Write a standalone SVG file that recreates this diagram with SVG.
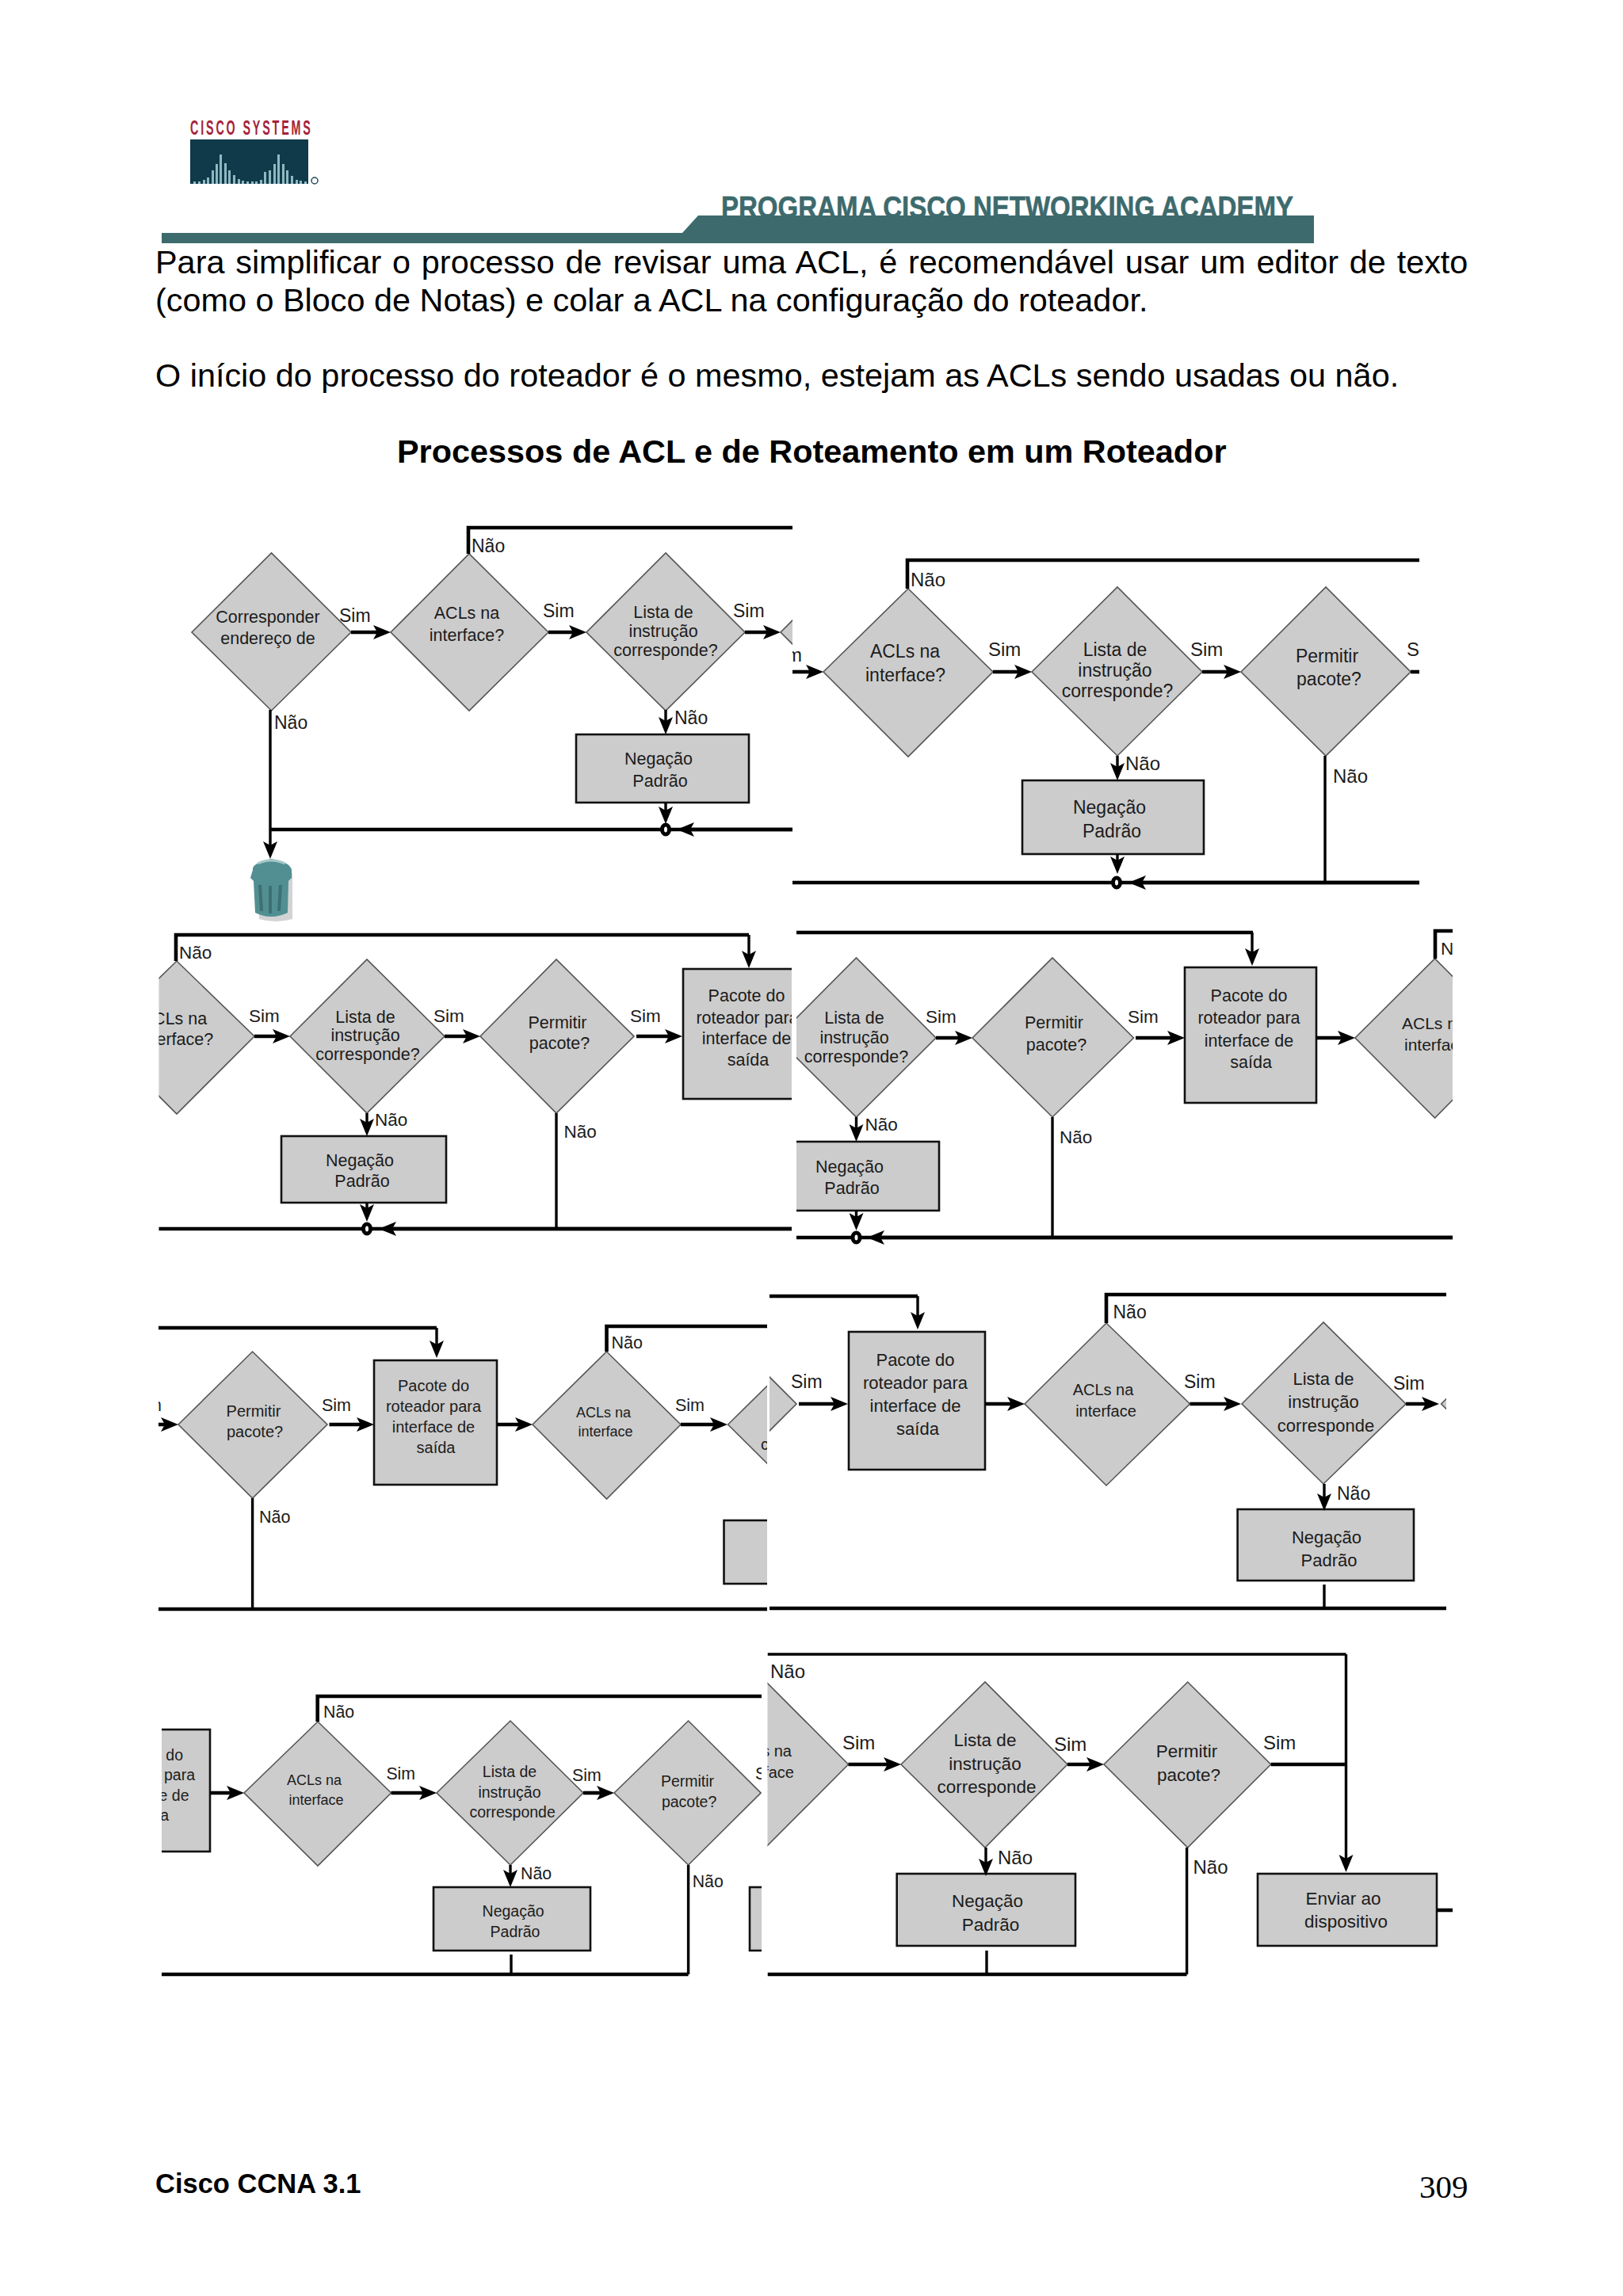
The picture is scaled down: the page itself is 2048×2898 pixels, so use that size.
<svg xmlns="http://www.w3.org/2000/svg" width="2048" height="2898" viewBox="0 0 2048 2898">
<style>
text{font-family:"Liberation Sans",Arial,sans-serif;fill:#1c1c1c}
.c{text-anchor:middle}.e{text-anchor:end}
.body{font-size:41.4px;fill:#000}
.title{font-size:41.4px;font-weight:bold;fill:#000}
.d{fill:#cccccc;stroke:#555;stroke-width:1.6}
.r{fill:#cccccc;stroke:#111;stroke-width:2.6}
.k{fill:none;stroke:#000;stroke-width:4.6}
.t{fill:none;stroke:#000;stroke-width:3.4}
.a{marker-end:url(#arrow)}
.j{fill:#fff;stroke:#000;stroke-width:5}
.bar{fill:#8fb9c2}
</style>
<defs>
<marker id="arrow" markerUnits="userSpaceOnUse" markerWidth="24" markerHeight="18" viewBox="0 0 24 18" refX="15" refY="9" orient="auto"><path d="M0 0L22 9L0 18L5 9Z" fill="#000"/></marker>
<clipPath id="c1"><rect x="150" y="640" width="850" height="530"/></clipPath>
<clipPath id="c2"><rect x="1000" y="690" width="791" height="440"/></clipPath>
<clipPath id="c3"><rect x="200.500" y="1170" width="798.500" height="400"/></clipPath>
<clipPath id="c4"><rect x="1005" y="1165" width="828" height="410"/></clipPath>
<clipPath id="c5"><rect x="200" y="1660" width="768" height="380"/></clipPath>
<clipPath id="c6"><rect x="971" y="1625" width="854" height="415"/></clipPath>
<clipPath id="c7"><rect x="204" y="2130" width="757" height="370"/></clipPath>
<clipPath id="c8"><rect x="968.500" y="2080" width="864.500" height="420"/></clipPath>
</defs>
<rect width="2048" height="2898" fill="#fff"/>

<g id="header">
<text transform="translate(240 170) scale(.55 1)" font-weight="bold" font-size="26" letter-spacing="5.200" style="fill:#a5233a">CISCO SYSTEMS</text>
<rect x="240" y="176" width="149" height="56" fill="#10394a"/>
<path class="bar" d="M244 229h3v3h-3zM250 229h3v3h-3zM256 227h3v5h-3zM261 224h3v8h-3zM267 215h3v17h-3zM272 207h3v25h-3zM277 195h3v37h-3zM283 206h3v26h-3zM288 215h3v17h-3zM294 221h3v11h-3zM300 226h3v6h-3zM305 228h3v4h-3zM311 229h3v3h-3zM317 229h3v3h-3zM322 229h3v3h-3zM328 227h3v5h-3zM333 217h3v15h-3zM339 215h3v17h-3zM345 207h3v25h-3zM350 195h3v37h-3zM356 207h3v25h-3zM361 215h3v17h-3zM367 222h3v10h-3zM373 227h3v5h-3zM378 228h3v4h-3zM384 229h3v3h-3z"/>
<circle cx="397" cy="228" r="4" fill="none" stroke="#1d4a5a" stroke-width="1.500"/>
<text x="910" y="275" textLength="722" lengthAdjust="spacingAndGlyphs" font-weight="bold" font-size="38" stroke="#3d6a6d" stroke-width=".6" style="fill:#3d6a6d">PROGRAMA CISCO NETWORKING ACADEMY</text>
<path d="M204 294H861L881 272H1658V307H204Z" fill="#3d6a6d"/>
</g>

<g id="page-text">
<text class="body" x="196" y="345" word-spacing="2.300">Para simplificar o processo de revisar uma ACL, é recomendável usar um editor de texto</text>
<text class="body" x="196" y="393">(como o Bloco de Notas) e colar a ACL na configuração do roteador.</text>
<text class="body" x="196" y="488">O início do processo do roteador é o mesmo, estejam as ACLs sendo usadas ou não.</text>
<text class="title" x="501" y="584">Processos de ACL e de Roteamento em um Roteador</text>
<text x="196" y="2768" font-size="34.500" font-weight="bold" style="fill:#000">Cisco CCNA 3.1</text>
<text x="1791" y="2774" font-size="41" style="font-family:'Liberation Serif','Times New Roman',serif;fill:#000">309</text>
</g>

<g id="panel1" clip-path="url(#c1)" font-size="21.500">
<g id="p1-match"><polygon class="d" points="242,798 342.500,698 443,798 342.500,897"/><text class="c" x="338" y="786">Corresponder</text><text class="c" x="338" y="813">endereço de</text></g>
<g id="p1-acl"><polygon class="d" points="493,798 592,699 692,798 592,897"/><text class="c" x="589" y="781">ACLs na</text><text class="c" x="589" y="809">interface?</text></g>
<g id="p1-list"><polygon class="d" points="740,798 840,698 940,798 840,897"/><text class="c" x="837" y="780">Lista de</text><text class="c" x="837" y="804">instrução</text><text class="c" x="840" y="828">corresponde?</text></g>
<g id="p1-next"><polygon class="d" points="985,798 1085,698 1185,798 1085,898"/></g>
<g id="p1-deny"><rect class="r" x="727" y="927" width="218" height="86"/><text class="c" x="831" y="965">Negação</text><text class="c" x="833" y="993">Padrão</text></g>
<g id="p1-trash">
<path d="M322 1100L366 1100L366 1158Q345 1164 324 1158Z" fill="#b5b5b5" opacity=".6" transform="translate(3 2)"/>
<path d="M319 1098Q317 1090 342 1084Q366 1088 368 1098L368 1108L364 1112L363 1152Q342 1162 322 1152L320 1112L316 1108Z" fill="#528f93"/>
<path d="M328 1117L330 1150M341 1118V1153M354 1117L352 1150" stroke="#3c7074" stroke-width="4" fill="none"/>
<path d="M325 1090Q342 1082 360 1090" stroke="#a6c8ca" stroke-width="3" fill="none"/>
</g>
<g id="p1-connectors" font-size="23">
<path class="k" d="M1000 666H591V699"/>
<path class="k a" d="M443 798H486"/><path class="k a" d="M692 798H733"/><path class="k a" d="M940 798H978"/>
<path class="t a" d="M840 896V920"/><path class="t a" d="M840 1013V1033"/>
<path class="k" d="M1000 1047H341"/><path class="t a" d="M341 896V1077"/>
<path class="k a" d="M1000 1047H861"/>
<ellipse class="j" cx="840" cy="1047" rx="4.500" ry="6"/>
<text x="595" y="697">Não</text><text x="428" y="785">Sim</text><text x="685" y="779">Sim</text><text x="925" y="779">Sim</text><text x="346" y="920">Não</text><text x="851" y="914">Não</text>
</g>
</g>

<g id="panel2" clip-path="url(#c2)" font-size="23">
<g id="p2-acl"><polygon class="d" points="1039,848 1146,743 1253,848 1146,955"/><text class="c" x="1142" y="830">ACLs na</text><text class="c" x="1142.500" y="860">interface?</text></g>
<g id="p2-list"><polygon class="d" points="1302,848 1410,741 1517,848 1410,954"/><text class="c" x="1407" y="828">Lista de</text><text class="c" x="1407" y="854">instrução</text><text class="c" x="1410" y="880">corresponde?</text></g>
<g id="p2-permit"><polygon class="d" points="1566,848 1673,741 1780,848 1673,954"/><text class="c" x="1674.500" y="836">Permitir</text><text class="c" x="1677" y="865">pacote?</text></g>
<g id="p2-deny"><rect class="r" x="1290" y="985" width="229" height="93"/><text class="c" x="1400" y="1027">Negação</text><text class="c" x="1403" y="1057">Padrão</text></g>
<g id="p2-connectors" font-size="24">
<path class="k" d="M1791 707H1145V743"/>
<path class="k a" d="M1000 848H1032"/><path class="k a" d="M1253 848H1295"/><path class="k a" d="M1517 848H1559"/><path class="k" d="M1780 848H1791"/>
<path class="t a" d="M1410 954V978"/><path class="t a" d="M1410 1078V1096"/>
<path class="k" d="M1000 1114H1791"/><path class="k a" d="M1791 1114H1431"/><path class="t" d="M1672 954V1114"/>
<ellipse class="j" cx="1409" cy="1114" rx="4.500" ry="6"/>
<text class="e" x="1012" y="835">Sim</text><text x="1149" y="740">Não</text><text x="1247" y="828">Sim</text><text x="1502" y="828">Sim</text><text x="1775" y="828">Sim</text><text x="1420" y="972">Não</text><text x="1682" y="988">Não</text>
</g>
</g>

<g id="panel3" clip-path="url(#c3)" font-size="21.500">
<g id="p3-acl"><polygon class="d" points="125,1308 223,1213 321,1308 223,1406"/><text class="c" x="220" y="1293">ACLs na</text><text class="c" x="222" y="1319">interface?</text></g>
<g id="p3-list"><polygon class="d" points="366,1308 463,1211 561,1308 463,1405"/><text class="c" x="461" y="1291">Lista de</text><text class="c" x="461" y="1314">instrução</text><text class="c" x="464" y="1338">corresponde?</text></g>
<g id="p3-permit"><polygon class="d" points="606,1308 702,1211 800,1308 702,1405"/><text class="c" x="703.500" y="1298">Permitir</text><text class="c" x="706" y="1324">pacote?</text></g>
<g id="p3-send"><rect class="r" x="862" y="1223" width="165" height="164"/><text class="c" x="942" y="1264">Pacote do</text><text class="c" x="943" y="1292">roteador para</text><text class="c" x="942" y="1318">interface de</text><text class="c" x="944" y="1345">saída</text></g>
<g id="p3-deny"><rect class="r" x="355" y="1434" width="208" height="84"/><text class="c" x="454" y="1472">Negação</text><text class="c" x="457" y="1498">Padrão</text></g>
<g id="p3-connectors" font-size="22.500">
<path class="k" d="M222 1213V1180H945"/><path class="t a" d="M945 1180V1215"/>
<path class="k a" d="M321 1308H359"/><path class="k a" d="M561 1308H599"/><path class="k a" d="M803 1308H854"/>
<path class="t a" d="M463 1405V1427"/><path class="t a" d="M463 1518V1535"/>
<path class="k" d="M200 1551H999"/><path class="k a" d="M999 1551H485"/><path class="t" d="M702 1405V1551"/>
<ellipse class="j" cx="463" cy="1551" rx="4.500" ry="6"/>
<text x="226" y="1210">Não</text><text x="314" y="1290">Sim</text><text x="547" y="1290">Sim</text><text x="795" y="1290">Sim</text><text x="473" y="1421">Não</text><text x="711.500" y="1436">Não</text>
</g>
</g>

<g id="panel4" clip-path="url(#c4)" font-size="21.500">
<g id="p4-list"><polygon class="d" points="980,1310 1080.500,1209 1181,1310 1080.500,1410"/><text class="c" x="1078" y="1292">Lista de</text><text class="c" x="1078" y="1317">instrução</text><text class="c" x="1080.500" y="1341">corresponde?</text></g>
<g id="p4-permit"><polygon class="d" points="1227,1310 1328,1209 1430.500,1310 1328,1410"/><text class="c" x="1330" y="1298">Permitir</text><text class="c" x="1333" y="1326">pacote?</text></g>
<g id="p4-send"><rect class="r" x="1495" y="1221" width="166" height="171"/><text class="c" x="1576" y="1264">Pacote do</text><text class="c" x="1576" y="1292">roteador para</text><text class="c" x="1576" y="1321">interface de</text><text class="c" x="1578.600" y="1348">saída</text></g>
<g id="p4-acl"><polygon class="d" points="1710,1310 1810.600,1210 1911,1310 1810.600,1411"/><text x="1769" y="1299" font-size="21">ACLs na</text><text x="1772" y="1326" font-size="21">interface?</text></g>
<g id="p4-deny"><rect class="r" x="969" y="1441" width="216" height="87"/><text class="c" x="1072" y="1480">Negação</text><text class="c" x="1075" y="1507">Padrão</text></g>
<g id="p4-connectors" font-size="22.500">
<path class="k" d="M1005 1177H1581"/><path class="t a" d="M1580 1177V1212"/>
<path class="k" d="M1833 1175H1811V1210"/>
<path class="k a" d="M1181 1310H1220"/><path class="k a" d="M1433 1310H1488"/><path class="k a" d="M1661 1310H1703"/>
<path class="t a" d="M1080.500 1410V1434"/><path class="t a" d="M1080.500 1528V1546"/>
<path class="k" d="M1005 1562H1833"/><path class="k a" d="M1833 1562H1101"/><path class="t" d="M1328 1410V1562"/>
<ellipse class="j" cx="1080.500" cy="1562" rx="4.500" ry="6"/>
<text x="1818" y="1205">Não</text><text x="1168" y="1291">Sim</text><text x="1423" y="1291">Sim</text><text x="1091.500" y="1427">Não</text><text x="1337" y="1443">Não</text>
</g>
</g>

<g id="panel5" clip-path="url(#c5)" font-size="20">
<g id="p5-permit"><polygon class="d" points="225,1798 318.600,1706 413,1798 318.600,1891"/><text class="c" x="320" y="1788">Permitir</text><text class="c" x="321.600" y="1814">pacote?</text></g>
<g id="p5-send"><rect class="r" x="472" y="1717" width="155" height="157"/><text class="c" x="547" y="1756">Pacote do</text><text class="c" x="547" y="1782">roteador para</text><text class="c" x="547" y="1808">interface de</text><text class="c" x="550" y="1834">saída</text></g>
<g id="p5-acl"><polygon class="d" points="672,1798 765.500,1706 859,1798 765.500,1892"/><text class="c" x="761.400" y="1789" font-size="18">ACLs na</text><text class="c" x="764" y="1813" font-size="18">interface</text></g>
<g id="p5-list"><polygon class="d" points="918.600,1798 1012,1706 1106,1798 1012,1891"/><text x="960" y="1830">corresponde</text></g>
<g id="p5-deny"><rect class="r" x="913.500" y="1919" width="208" height="80"/></g>
<g id="p5-connectors" font-size="21.500">
<path class="k" d="M200 1676H551"/><path class="t a" d="M551 1676V1707"/>
<path class="k" d="M968 1674H765.500V1706"/>
<path class="k a" d="M200 1798H218"/><path class="k a" d="M415.500 1798H465"/><path class="k a" d="M627 1798H665"/><path class="k a" d="M859 1798H911"/>
<path class="k" d="M200 2031H968"/><path class="t" d="M318.600 1891V2031"/>
<text class="e" x="204" y="1781">Sim</text><text x="406" y="1781">Sim</text><text x="771.600" y="1702">Não</text><text x="852" y="1781">Sim</text><text x="327" y="1922">Não</text>
</g>
</g>

<g id="panel6" clip-path="url(#c6)" font-size="22">
<g id="p6-prev"><polygon class="d" points="805,1772 905,1672 1005,1772 905,1872"/></g>
<g id="p6-send"><rect class="r" x="1071" y="1681" width="172" height="174"/><text class="c" x="1155" y="1724">Pacote do</text><text class="c" x="1155" y="1753">roteador para</text><text class="c" x="1155" y="1782">interface de</text><text class="c" x="1158" y="1811">saída</text></g>
<g id="p6-acl"><polygon class="d" points="1293,1772 1396,1670 1501.500,1772 1396,1875"/><text class="c" x="1392" y="1761" font-size="20">ACLs na</text><text class="c" x="1395.500" y="1788" font-size="20">interface</text></g>
<g id="p6-list"><polygon class="d" points="1567,1772 1670,1669 1774,1772 1670,1873"/><text class="c" x="1670" y="1748">Lista de</text><text class="c" x="1670" y="1777">instrução</text><text class="c" x="1673" y="1807">corresponde</text></g>
<g id="p6-next"><polygon class="d" points="1818.600,1772 1920,1670 2020,1772 1920,1873"/></g>
<g id="p6-deny"><rect class="r" x="1561.600" y="1905" width="222.400" height="90"/><text class="c" x="1674" y="1948">Negação</text><text class="c" x="1677" y="1977">Padrão</text></g>
<g id="p6-connectors" font-size="23">
<path class="k" d="M971 1636H1158"/><path class="t a" d="M1158 1636V1671"/>
<path class="k" d="M1825 1634H1396V1670"/>
<path class="k a" d="M1008 1772H1063"/><path class="k a" d="M1243 1772H1286"/><path class="k a" d="M1501.500 1772H1559"/><path class="k a" d="M1774 1772H1809"/>
<path class="t a" d="M1671 1873V1900"/><path class="t" d="M1671 2000V2030"/>
<path class="k" d="M971 2030H1825"/>
<text x="998" y="1752">Sim</text><text x="1404.500" y="1664">Não</text><text x="1494" y="1752">Sim</text><text x="1758" y="1754">Sim</text><text x="1687" y="1893">Não</text>
</g>
</g>

<g id="panel7" clip-path="url(#c7)" font-size="19.500">
<g id="p7-send"><rect class="r" x="100" y="2183" width="165" height="154"/><text class="e" x="231" y="2222">Pacote do</text><text class="e" x="246" y="2247">roteador para</text><text class="e" x="238.500" y="2273">interface de</text><text class="e" x="213" y="2298">saída</text></g>
<g id="p7-acl"><polygon class="d" points="308,2263 401,2173 493.600,2263 401,2355"/><text class="c" x="396.600" y="2253" font-size="18">ACLs na</text><text class="c" x="399" y="2278" font-size="18">interface</text></g>
<g id="p7-list"><polygon class="d" points="551,2263 644,2172 736,2263 644,2354"/><text class="c" x="643" y="2243">Lista de</text><text class="c" x="643" y="2269">instrução</text><text class="c" x="646.600" y="2294">corresponde</text></g>
<g id="p7-permit"><polygon class="d" points="775,2263 868.600,2172 960,2263 868.600,2354"/><text class="c" x="867.500" y="2255">Permitir</text><text class="c" x="869.600" y="2281">pacote?</text></g>
<g id="p7-deny"><rect class="r" x="547" y="2382" width="198" height="80"/><text class="c" x="647.600" y="2419">Negação</text><text class="c" x="650" y="2445">Padrão</text></g>
<g id="p7-deny2"><rect class="r" x="946" y="2382" width="198" height="80"/></g>
<g id="p7-connectors" font-size="21.300">
<path class="k" d="M961 2141H400.700V2173"/>
<path class="k a" d="M265 2263H301"/><path class="k a" d="M493.600 2263H544"/><path class="k a" d="M736 2263H768"/>
<path class="t a" d="M644 2354V2375"/><path class="t" d="M645 2467V2492"/>
<path class="k" d="M204 2492H868.600"/><path class="t" d="M868.600 2354V2492"/>
<text x="408" y="2168">Não</text><text x="487.400" y="2246">Sim</text><text x="722" y="2248">Sim</text><text x="953" y="2246">Sim</text><text x="657" y="2372">Não</text><text x="873.700" y="2382">Não</text>
</g>
</g>

<g id="panel8" clip-path="url(#c8)" font-size="22.500">
<g id="p8-acl"><polygon class="d" points="862,2227 966,2122 1070.500,2227 966,2332"/><text class="e" x="999" y="2217" font-size="20">ACLs na</text><text class="e" x="1002" y="2244" font-size="20">interface</text></g>
<g id="p8-list"><polygon class="d" points="1137,2227 1243,2123 1347,2227 1243,2332"/><text class="c" x="1243" y="2204">Lista de</text><text class="c" x="1243" y="2234">instrução</text><text class="c" x="1245" y="2263">corresponde</text></g>
<g id="p8-permit"><polygon class="d" points="1393,2227 1498.700,2123 1603.700,2227 1498.700,2332"/><text class="c" x="1497.600" y="2218">Permitir</text><text class="c" x="1500" y="2248">pacote?</text></g>
<g id="p8-deny"><rect class="r" x="1131.700" y="2365" width="225.300" height="91"/><text class="c" x="1246" y="2407">Negação</text><text class="c" x="1250" y="2437">Padrão</text></g>
<g id="p8-send"><rect class="r" x="1587" y="2365" width="226" height="91"/><text class="c" x="1695" y="2404">Enviar ao</text><text class="c" x="1698.500" y="2433">dispositivo</text></g>
<g id="p8-connectors" font-size="24">
<path class="t" d="M968.500 2088H1698.500"/><path class="t a" d="M1698.500 2088V2356"/>
<path class="k a" d="M1070.500 2227H1130"/><path class="k a" d="M1347 2227H1386"/><path class="k" d="M1603.700 2227H1698.500"/>
<path class="t a" d="M1244 2332V2361"/><path class="t" d="M1245 2462V2492"/>
<path class="k" d="M968.500 2492H1497.600"/><path class="t" d="M1497.600 2332V2492"/>
<path class="k" d="M1813 2411H1833"/>
<text x="972" y="2118">Não</text><text x="1063" y="2208">Sim</text><text x="1330" y="2210">Sim</text><text x="1594" y="2208">Sim</text><text x="1259" y="2353">Não</text><text x="1505.500" y="2365">Não</text>
</g>
</g>
</svg>
